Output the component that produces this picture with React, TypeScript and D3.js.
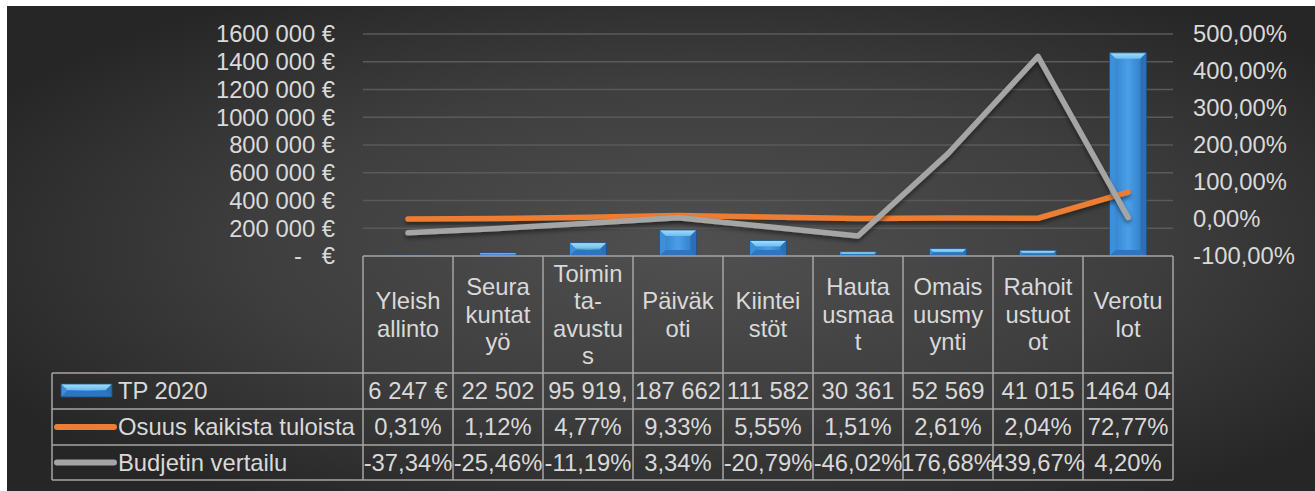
import React from 'react';
import * as d3 from 'd3';

// categories, wrapped the way the data table shows them
const categories = [
  'Yleishallinto',
  'Seurakuntatyö',
  'Toiminta-avustus',
  'Päiväkoti',
  'Kiinteistöt',
  'Hautausmaat',
  'Omaisuusmyynti',
  'Rahoitustuotot',
  'Verotulot',
];
const categoryLines = [
  ['Yleish', 'allinto'],
  ['Seura', 'kuntat', 'yö'],
  ['Toimin', 'ta-', 'avustu', 's'],
  ['Päiväk', 'oti'],
  ['Kiintei', 'stöt'],
  ['Hauta', 'usmaa', 't'],
  ['Omais', 'uusmy', 'ynti'],
  ['Rahoit', 'ustuot', 'ot'],
  ['Verotu', 'lot'],
];

// series
const tp2020 = [6247, 22502, 95919, 187662, 111582, 30361, 52569, 41015, 1464040];
const tpLabels = ['6 247 €', '22 502', '95 919,', '187 662', '111 582', '30 361', '52 569', '41 015', '1464 04'];
const osuus = [0.31, 1.12, 4.77, 9.33, 5.55, 1.51, 2.61, 2.04, 72.77];
const budjetti = [-37.34, -25.46, -11.19, 3.34, -20.79, -46.02, 176.68, 439.67, 4.2];

// ticks
const leftTicks = [0, 200000, 400000, 600000, 800000, 1000000, 1200000, 1400000, 1600000];
const rightTicks = [-100, 0, 100, 200, 300, 400, 500];

const seriesNames = ['TP 2020', 'Osuus kaikista tuloista', 'Budjetin vertailu'];

const FONT = '"Liberation Sans", Arial, sans-serif';
const FS = 23.8;
const TEXT = '#d9d9d9';
const GRID = '#5a5a5a';
const BORDER = '#a6a6a6';

const fmtEur = (v: number) => (v === 0 ? '-\u00a0\u00a0\u00a0€' : `${v / 1000} 000 €`);
const fmtPct = (v: number) => d3.format('.2f')(v).replace('.', ',').replace('\u2212', '-') + '%';

// bevelled bar like the office "bevel" shape effect
const Bar = ({ x, y, w, h }: { x: number; y: number; w: number; h: number }) => {
  const b = Math.min(6, h / 2, w / 2);
  return (
    <g>
      <rect x={x} y={y} width={w} height={h} fill="url(#barBody)" />
      <polygon points={`${x},${y} ${x + w},${y} ${x + w - b},${y + b} ${x + b},${y + b}`} fill="url(#barTop)" />
      <polygon points={`${x},${y} ${x + b},${y + b} ${x + b},${y + h - b} ${x},${y + h}`} fill="#3e8fd9" />
      <polygon points={`${x + w},${y} ${x + w - b},${y + b} ${x + w - b},${y + h - b} ${x + w},${y + h}`} fill="#2b6fb6" />
      <polygon points={`${x},${y + h} ${x + b},${y + h - b} ${x + w - b},${y + h - b} ${x + w},${y + h}`} fill="#2d75c0" />
      <rect x={x} y={y} width={w} height={h} fill="none" stroke="#1d4f86" strokeWidth={0.8} />
    </g>
  );
};

export default function App() {
  const W = 1315;
  const H = 491;
  const plotLeft = 363;
  const plotRight = 1173;
  const plotTop = 34;
  const plotBottom = 256;

  const x = d3.scaleBand<string>().domain(categories).range([plotLeft, plotRight]).padding(0);
  const yLeft = d3.scaleLinear().domain([0, 1600000]).range([plotBottom, plotTop]);
  const yRight = d3.scaleLinear().domain([-100, 500]).range([plotBottom, plotTop]);

  const barW = x.bandwidth() * 0.41;
  const cx = (c: string) => (x(c) as number) + x.bandwidth() / 2;

  const line = d3
    .line<number>()
    .x((_, i) => cx(categories[i]))
    .y((d) => yRight(d));

  // data table rows
  const tableLeft = 52;
  const rowTops = [373, 409, 445, 480];
  const headerMid = (plotBottom + rowTops[0]) / 2;
  const lineH = 27.5;

  const rows = [tpLabels, osuus.map(fmtPct), budjetti.map(fmtPct)];

  return (
    <div style={{ position: 'absolute', left: 0, top: 0 }}>
      <svg width={W} height={H} style={{ display: 'block', fontFamily: FONT }}>
        <defs>
          <radialGradient id="bg" cx="0.53" cy="0.5" r="0.62">
            <stop offset="0" stopColor="#505050" />
            <stop offset="0.55" stopColor="#3e3e3e" />
            <stop offset="1" stopColor="#262626" />
          </radialGradient>
          <linearGradient id="barBody" x1="0" x2="1" y1="0" y2="0">
            <stop offset="0" stopColor="#2f7bc6" />
            <stop offset="0.5" stopColor="#4a9fe8" />
            <stop offset="1" stopColor="#2e74bd" />
          </linearGradient>
          <linearGradient id="barTop" x1="0" x2="0" y1="0" y2="1">
            <stop offset="0" stopColor="#a6dffb" />
            <stop offset="1" stopColor="#6cbcef" />
          </linearGradient>
          <filter id="shadow" x="-10%" y="-10%" width="120%" height="130%">
            <feDropShadow dx="0" dy="3" stdDeviation="2" floodColor="#000" floodOpacity="0.45" />
          </filter>
        </defs>

        <rect x={0} y={0} width={W} height={H} fill="#ffffff" />
        <rect x={7} y={6} width={W - 7} height={H - 6} fill="url(#bg)" />

        {/* gridlines */}
        {leftTicks.slice(1).map((t) => (
          <line key={t} x1={plotLeft} x2={plotRight} y1={yLeft(t)} y2={yLeft(t)} stroke={GRID} strokeWidth={1.5} />
        ))}

        {/* left axis labels */}
        {leftTicks.map((t) => (
          <text key={t} x={335} y={yLeft(t)} dy="0.35em" textAnchor="end" fontSize={FS} fill={TEXT}>
            {fmtEur(t)}
          </text>
        ))}

        {/* right axis labels */}
        {rightTicks.map((t) => (
          <text key={t} x={1193} y={yRight(t)} dy="0.35em" textAnchor="start" fontSize={FS} fill={TEXT}>
            {fmtPct(t)}
          </text>
        ))}

        {/* bars */}
        {tp2020.map((v, i) => {
          const c = categories[i];
          const top = yLeft(v);
          return <Bar key={c} x={cx(c) - barW / 2} y={top} w={barW} h={plotBottom - top} />;
        })}

        {/* lines */}
        <path d={line(osuus) as string} fill="none" stroke="#ed7d31" strokeWidth={5.5} strokeLinecap="round" strokeLinejoin="round" filter="url(#shadow)" />
        <path d={line(budjetti) as string} fill="none" stroke="#a5a5a5" strokeWidth={5.5} strokeLinecap="round" strokeLinejoin="round" filter="url(#shadow)" />

        {/* data table */}
        <g stroke={BORDER} strokeWidth={1.5}>
          <line x1={plotLeft} x2={plotRight} y1={plotBottom} y2={plotBottom} />
          {rowTops.map((ry) => (
            <line key={ry} x1={tableLeft} x2={plotRight} y1={ry} y2={ry} />
          ))}
          <line x1={tableLeft} x2={tableLeft} y1={rowTops[0]} y2={rowTops[3]} />
          {categories.map((c) => (
            <line key={c} x1={x(c)} x2={x(c)} y1={plotBottom} y2={rowTops[3]} />
          ))}
          <line x1={plotRight} x2={plotRight} y1={plotBottom} y2={rowTops[3]} />
        </g>

        {/* header categories */}
        {categoryLines.map((lines, i) => (
          <text key={categories[i]} textAnchor="middle" fontSize={FS} fill={TEXT}>
            {lines.map((l, j) => (
              <tspan key={j} x={cx(categories[i])} y={headerMid + (j - (lines.length - 1) / 2) * lineH} dy="0.35em">
                {l}
              </tspan>
            ))}
          </text>
        ))}

        {/* row values */}
        {rows.map((vals, r) =>
          vals.map((s, i) => (
            <text
              key={r + '-' + i}
              x={cx(categories[i])}
              y={(rowTops[r] + rowTops[r + 1]) / 2}
              dy="0.35em"
              textAnchor="middle"
              fontSize={FS}
              fill={TEXT}
            >
              {s}
            </text>
          ))
        )}

        {/* legend keys */}
        <Bar x={61} y={384} w={51} h={13} />
        <line x1={57} x2={114} y1={(rowTops[1] + rowTops[2]) / 2} y2={(rowTops[1] + rowTops[2]) / 2} stroke="#ed7d31" strokeWidth={6} strokeLinecap="round" />
        <line x1={57} x2={114} y1={(rowTops[2] + rowTops[3]) / 2} y2={(rowTops[2] + rowTops[3]) / 2} stroke="#a5a5a5" strokeWidth={6} strokeLinecap="round" />
        {seriesNames.map((n, r) => (
          <text key={n} x={118} y={(rowTops[r] + rowTops[r + 1]) / 2} dy="0.35em" fontSize={FS} fill={TEXT}>
            {n}
          </text>
        ))}
      </svg>
    </div>
  );
}
